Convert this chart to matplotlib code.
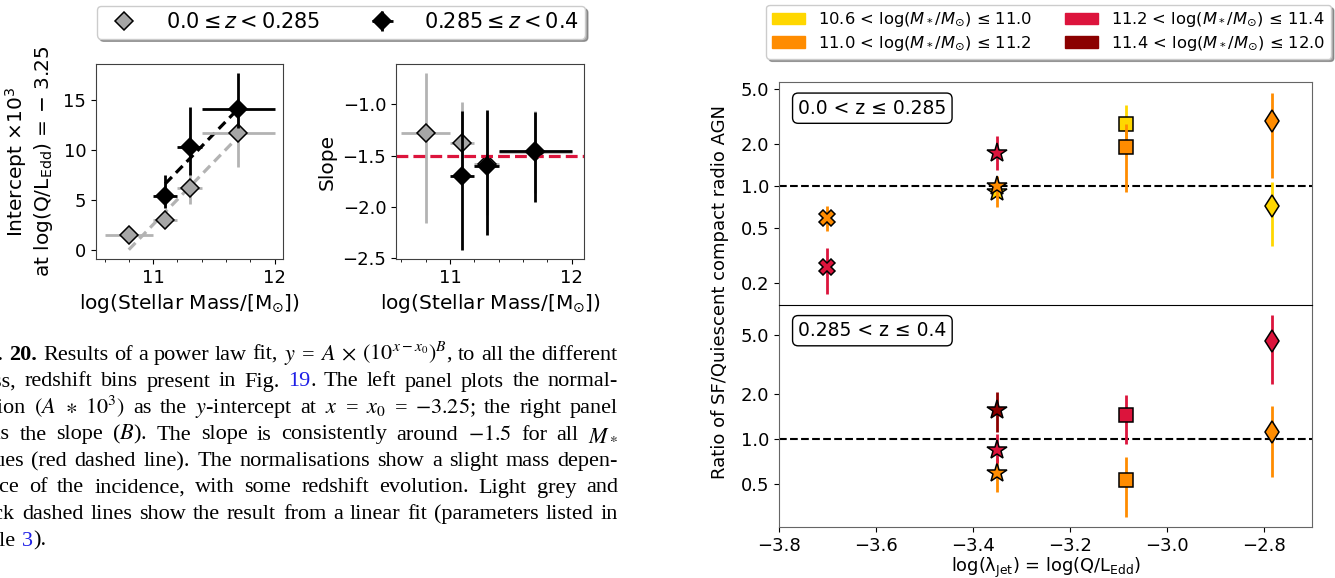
import re
import numpy as np
import matplotlib
matplotlib.use('Agg')
import matplotlib.pyplot as plt
from matplotlib.lines import Line2D
from matplotlib.patches import Patch
from matplotlib.ticker import MultipleLocator, FixedLocator, NullLocator, FixedFormatter

# ---------------- left panels: power-law fit results ----------------
mass_lo = [10.8, 11.1, 11.3, 11.7]
mass_lo_err = [0.2, 0.1, 0.1, 0.3]
icpt_lo = [1.5, 2.95, 6.2, 11.7]
icpt_lo_err = [0.5, 0.8, 1.6, 3.4]
slope_lo = [-1.28, -1.38, -1.58, -1.47]
slope_lo_err = [[0.88, 0.40, 0.50, 0.40], [0.59, 0.40, 0.50, 0.40]]

mass_hi = [11.1, 11.3, 11.7]
mass_hi_err = [0.1, 0.1, 0.3]
icpt_hi = [5.4, 10.3, 14.1]
icpt_hi_err = [[1.2, 2.8, 1.9], [2.1, 4.0, 3.6]]
slope_hi = [-1.70, -1.60, -1.455]
slope_hi_err = [[0.72, 0.68, 0.50], [0.63, 0.54, 0.375]]

# linear fits shown as dashed lines
fit_lo_x = [10.8, 11.7]
fit_lo_y = [0.0, 11.3]
fit_hi_x = [11.1, 11.7]
fit_hi_y = [6.6, 14.1]
slope_ref = -1.5

z_labels = [r'$0.0 \leq z < 0.285$', r'$0.285 \leq z < 0.4$']

# ---------------- right panels: SF/quiescent ratio ----------------
ljet = [-3.70, -3.35, -3.084, -2.783]
markers = ['X', '*', 's', 'd']
mass_labels = [r'10.6 < log($M_*/M_{\odot}$) ≤ 11.0',
               r'11.0 < log($M_*/M_{\odot}$) ≤ 11.2',
               r'11.2 < log($M_*/M_{\odot}$) ≤ 11.4',
               r'11.4 < log($M_*/M_{\odot}$) ≤ 12.0']
mass_colors = ['gold', 'darkorange', 'crimson', 'darkred']
nan = np.nan

# 0.0 < z <= 0.285 : rows = mass bins, columns = ljet
ratio_z1 = [[nan, 0.91, 2.81, 0.72],
            [0.586, 1.00, 1.91, 2.94],
            [0.261, 1.73, nan, nan],
            [nan, nan, nan, nan]]
low_z1 = [[nan, 0.80, 2.20, 0.37],
          [0.47, 0.71, 0.91, 1.14],
          [0.167, 1.30, nan, nan],
          [nan, nan, nan, nan]]
high_z1 = [[nan, 0.98, 3.85, 1.06],
           [0.72, 1.17, 2.80, 4.70],
           [0.36, 2.29, nan, nan],
           [nan, nan, nan, nan]]

# 0.285 < z <= 0.4
ratio_z2 = [[nan, nan, nan, nan],
            [nan, 0.59, 0.53, 1.12],
            [nan, 0.85, 1.45, 4.57],
            [nan, 1.57, nan, nan]]
low_z2 = [[nan, nan, nan, nan],
          [nan, 0.44, 0.30, 0.56],
          [nan, 0.69, 0.93, 2.33],
          [nan, 1.12, nan, nan]]
high_z2 = [[nan, nan, nan, nan],
           [nan, 0.75, 0.76, 1.67],
           [nan, 1.08, 1.97, 6.80],
           [nan, 2.06, nan, nan]]

ratio_ticks = [0.2, 0.5, 1.0, 2.0, 5.0]

# ---------------- caption text ----------------
caption = [
    ['**Fig.', '**20.', 'Results', 'of', 'a', 'power', 'law', 'fit,',
     r'$y$', '=', r'$A$', r'$\times$', r'$(10^{x-x_0})^B$,', 'to', 'all', 'the', 'different'],
    ['mass,', 'redshift', 'bins', 'present', 'in', 'Fig.', '[19].', 'The', 'left',
     'panel', 'plots', 'the', 'normal-'],
    ['isation', r'$(A$', r'$\ast$', r'$10^3)$', 'as', 'the', r'$y$-intercept', 'at', r'$x$', '=',
     r'$x_0$', '=', r'$-3.25$;', 'the', 'right', 'panel'],
    ['plots', 'the', 'slope', r'($B$).', 'The', 'slope', 'is', 'consistently', 'around',
     r'$-1.5$', 'for', 'all', r'$M_*$'],
    ['values', '(red', 'dashed', 'line).', 'The', 'normalisations', 'show', 'a', 'slight',
     'mass', 'depen-'],
    ['dence', 'of', 'the', 'incidence,', 'with', 'some', 'redshift', 'evolution.', 'Light',
     'grey', 'and'],
    ['black', 'dashed', 'lines', 'show', 'the', 'result', 'from', 'a', 'linear', 'fit',
     '(parameters', 'listed', 'in'],
    ['Table', '[3]).'],
]

W, H = 1335, 578
fig = plt.figure(figsize=(W / 100, H / 100), dpi=100)


def px(x0, y0, x1, y1):
    return [x0 / W, 1 - y1 / H, (x1 - x0) / W, (y1 - y0) / H]


ax1 = fig.add_axes(px(96, 64, 283, 259))
ax2 = fig.add_axes(px(396, 64, 584, 259))
axU = fig.add_axes(px(779, 82, 1312, 304.5))
axL = fig.add_axes(px(779, 304.5, 1312, 527), sharex=axU)

grey_face = '#a6a6a6'
grey_bar = '#b3b3b3'
eb = dict(fmt='D', ms=9.5, mec='k', mew=1.1, elinewidth=2, capsize=0)

# intercept panel
ax1.plot(fit_lo_x, fit_lo_y, ls=(0, (3, 1.8)), lw=2.3, color=grey_bar, zorder=1)
ax1.plot(fit_hi_x, fit_hi_y, ls=(0, (3, 1.8)), lw=2.3, color='k', zorder=1)
e_lo = ax1.errorbar(mass_lo, icpt_lo, xerr=mass_lo_err, yerr=icpt_lo_err,
                    color=grey_bar, mfc=grey_face, zorder=2, **eb)
e_hi = ax1.errorbar(mass_hi, icpt_hi, xerr=mass_hi_err, yerr=icpt_hi_err,
                    color='k', mfc='k', zorder=3, **eb)
ax1.set_xlim(10.53, 12.07)
ax1.set_ylim(-0.93, 18.6)
ax1.set_ylabel('Intercept $\\times10^3$\nat log(Q/L$_{\\rm Edd}$) = $-$ 3.25',
               fontsize=14.5, labelpad=6)

# slope panel
ax2.errorbar(mass_lo, slope_lo, xerr=mass_lo_err, yerr=slope_lo_err,
             color=grey_bar, mfc=grey_face, zorder=2, **eb)
ax2.errorbar(mass_hi, slope_hi, xerr=mass_hi_err, yerr=slope_hi_err,
             color='k', mfc='k', zorder=3, **eb)
ax2.axhline(slope_ref, color='crimson', ls='--', lw=2.3, zorder=2.5)
ax2.set_xlim(10.555, 12.1)
ax2.set_ylim(-2.51, -0.607)
ax2.set_ylabel('Slope', fontsize=14.5, labelpad=4)

for ax in (ax1, ax2):
    ax.set_xticks([11, 12])
    ax.xaxis.set_minor_locator(MultipleLocator(0.2))
    ax.tick_params(labelsize=13)
    ax.set_xlabel(r'log(Stellar Mass/[M$_{\odot}$])', fontsize=14.5)
    for s in ax.spines.values():
        s.set_color('0.25')

fig.legend([Line2D([], [], marker='D', ls='none', ms=9.5, mfc=grey_face, mec='k', mew=1.1),
            e_hi], z_labels, loc='upper center', bbox_to_anchor=(341 / W, 1 - 6 / H),
           borderaxespad=0, ncol=2, fontsize=15, shadow=True, columnspacing=2.0,
           handletextpad=1.0, borderpad=0.3, fancybox=True)

# ratio panels
ms = {'X': 12, '*': 14.5, 's': 10.5, 'd': 11.5}
for ax, ratio, low, high, tag in ((axU, ratio_z1, low_z1, high_z1, '0.0 < z ≤ 0.285'),
                                  (axL, ratio_z2, low_z2, high_z2, '0.285 < z ≤ 0.4')):
    ax.axhline(1.0, color='k', ls='--', lw=1.5, zorder=1)
    for i, c in enumerate(mass_colors):
        for j, mk in enumerate(markers):
            y = ratio[i][j]
            if np.isnan(y):
                continue
            ax.errorbar([ljet[j]], [y], yerr=[[y - low[i][j]], [high[i][j] - y]],
                        fmt=mk, ms=ms[mk], color=c, mec='k', mew=1.1,
                        elinewidth=2, capsize=0, zorder=2 + i)
    ax.set_yscale('log')
    ax.yaxis.set_major_locator(FixedLocator(ratio_ticks))
    ax.yaxis.set_major_formatter(FixedFormatter(['%.1f' % t for t in ratio_ticks]))
    ax.yaxis.set_minor_locator(NullLocator())
    ax.tick_params(labelsize=13)
    ax.text(0.036, 0.925, tag, transform=ax.transAxes, fontsize=13.5, va='top', ha='left',
            bbox=dict(boxstyle='round,pad=0.3', fc='white', ec='k', lw=1))
    for s in ax.spines.values():
        s.set_color('0.4')

axU.set_ylim(0.14, 5.6)
axL.set_ylim(0.257, 8.0)
axU.set_xlim(-3.8, -2.7)
axU.set_xticks(np.arange(-3.8, -2.75, 0.2))
axU.tick_params(labelbottom=False, bottom=False)
axU.spines['bottom'].set_visible(False)
axL.patch.set_visible(False)
axL.spines['top'].set_color('k')
axL.set_xlabel('log(λ$_{\\rm Jet}$) = log(Q/L$_{\\rm Edd}$)', fontsize=12.8, labelpad=1)
fig.text(720 / W, 1 - 292 / H, 'Ratio of SF/Quiescent compact radio AGN', rotation=90,
         fontsize=13, ha='center', va='center')

fig.legend([Patch(color=c) for c in mass_colors], mass_labels, loc='upper right',
           bbox_to_anchor=(1331 / W, 1 - 5 / H), borderaxespad=0, ncol=2, fontsize=11.8,
           shadow=True, columnspacing=2.0, handlelength=2.0, handletextpad=0.8,
           borderpad=0.35, labelspacing=0.3)

# caption, justified between a left edge off the canvas and x = 618 px
cap_fs = 16
left_px, right_px = -33, 618
baselines = [360, 386.5, 413, 439.5, 466, 492.5, 519, 545.5]
renderer = fig.canvas.get_renderer()
for li, (tokens, yb) in enumerate(zip(caption, baselines)):
    words = []
    for tok in tokens:
        bold = tok.startswith('**')
        tok = tok.lstrip('*') if bold else tok
        pieces = []
        for p in re.split(r'(\[[^\]]*\])', tok):
            if not p:
                continue
            blue = p.startswith('[')
            t = fig.text(0, 1 - yb / H, p.strip('[]') if blue else p, fontsize=cap_fs,
                         family='Liberation Serif', math_fontfamily='stix',
                         color='#1f1fe6' if blue else 'k',
                         weight='bold' if bold else 'normal', va='baseline', ha='left')
            pieces.append((t, t.get_window_extent(renderer).width))
        words.append(pieces)
    widths = [sum(w for _, w in pieces) for pieces in words]
    if li == len(caption) - 1:
        gap = 0.26 * cap_fs * 100 / 72
    else:
        gap = (right_px - left_px - sum(widths)) / (len(words) - 1)
    x = left_px
    for pieces, wd in zip(words, widths):
        xx = x
        for t, w in pieces:
            t.set_x(xx / W)
            xx += w
        x += wd + gap

fig.savefig('out.png', dpi=100)
